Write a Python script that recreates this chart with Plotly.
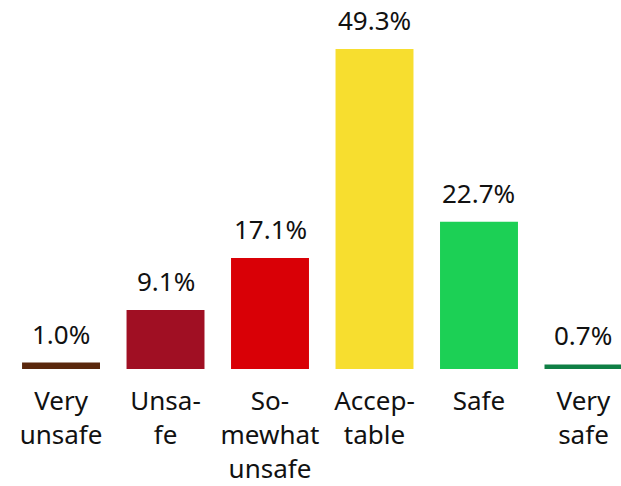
import plotly.graph_objects as go

categories = ["Very<br>unsafe", "Unsa-<br>fe", "So-<br>mewhat<br>unsafe", "Accep-<br>table", "Safe", "Very<br>safe"]
values = [1.0, 9.1, 17.1, 49.3, 22.7, 0.7]
colors = ["#5a270c", "#a00f23", "#d90006", "#f7de2f", "#1cd055", "#0f7f45"]
labels = [f"{v:.1f}%" for v in values]

FONT = "Noto Sans"
x = list(range(len(values)))

fig = go.Figure(go.Bar(
    x=x,
    y=values,
    marker=dict(color=colors, line=dict(width=0)),
    cliponaxis=False,
))

for xi, v, t in zip(x, values, labels):
    fig.add_annotation(x=xi, y=v, text=t, showarrow=False,
                       yanchor="middle", yshift=29, height=26,
                       font=dict(size=26, color="#111111", family=FONT))

fig.update_layout(
    width=621, height=486,
    margin=dict(l=0, r=0, t=0, b=117),
    paper_bgcolor="white", plot_bgcolor="white",
    bargap=0.254,
    showlegend=False,
    font=dict(family=FONT, size=26, color="#111111"),
    xaxis=dict(
        tickmode="array",
        tickvals=x,
        ticktext=categories,
        range=[-0.584, 5.359],
        showgrid=False, zeroline=False, showline=False,
        ticks="", ticklabelstandoff=14,
        tickfont=dict(size=26, color="#111111", family=FONT),
    ),
    yaxis=dict(range=[0, 56.85], visible=False),
)

fig.write_html(
    "out.html",
    config={"displayModeBar": False, "staticPlot": True},
    post_script=("document.body.style.margin='0';"
                 "document.body.style.overflow='hidden';"
                 "document.documentElement.style.overflow='hidden';"),
)
